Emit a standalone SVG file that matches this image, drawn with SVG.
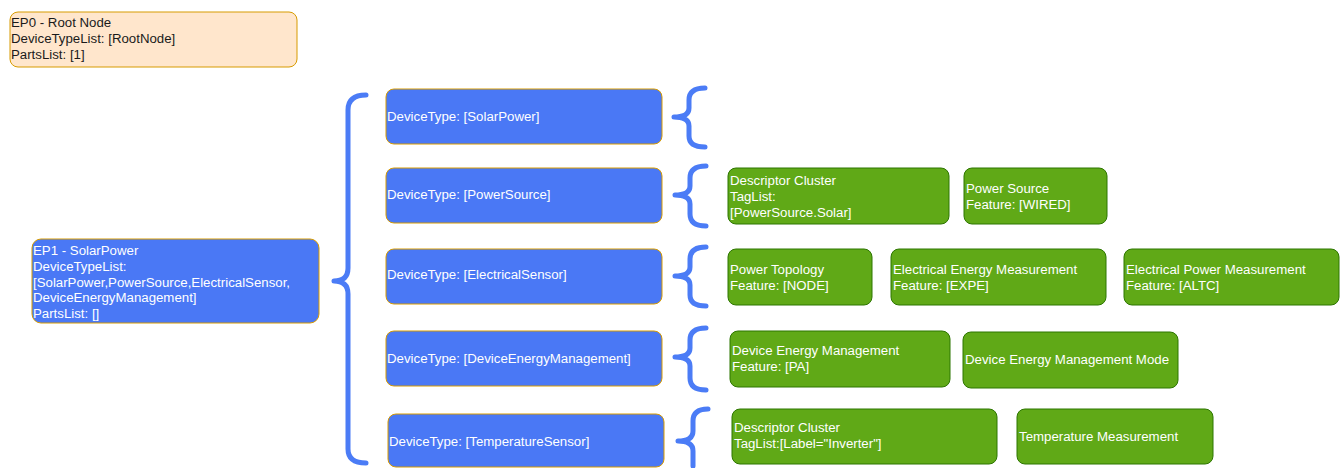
<svg xmlns="http://www.w3.org/2000/svg" width="1341" height="468" viewBox="0 0 1341 468">
<style>
text{font-family:"Liberation Sans",Arial,sans-serif;font-size:13.25px}
.root{fill:#ffe6cc;stroke:#d79b00;stroke-width:1}
.blue{fill:#4a78f5;stroke:#d79b00;stroke-width:1}
.green{fill:#60a917;stroke:#2d7600;stroke-width:1}
.wt{fill:#ffffff}
.bt{fill:#1a1a1a}
.brace{fill:none;stroke:#4b7cf6;stroke-width:5;stroke-linecap:round;stroke-linejoin:round}
</style>
<rect width="1341" height="468" fill="#ffffff"/>
<g id="ep0">
<rect class="root" x="10" y="12" width="287" height="55" rx="8"/>
<text class="bt" x="11" y="27">EP0 - Root Node</text>
<text class="bt" x="11" y="43">DeviceTypeList: [RootNode]</text>
<text class="bt" x="11" y="59">PartsList: [1]</text>
</g>
<g id="ep1">
<rect class="blue" x="32" y="239" width="287" height="84" rx="9"/>
<text class="wt" x="33" y="255">EP1 - SolarPower</text>
<text class="wt" x="33" y="271">DeviceTypeList:</text>
<text class="wt" x="33" y="286.5">[SolarPower,PowerSource,ElectricalSensor,</text>
<text class="wt" x="33" y="302">DeviceEnergyManagement]</text>
<text class="wt" x="33" y="318">PartsList: []</text>
</g>
<g id="connectors">
<path class="brace" d="M366 95 Q348 95 348 110 L348 268 Q348 281 334 281 Q348 281 348 294 L348 449 Q348 463 366 463"/>
<path class="brace" d="M705 88 Q689 88 689 100 L689 108 Q689 117 674 117 Q689 117 689 126 L689 136 Q689 147 705 147"/>
<path class="brace" d="M706 166 Q690 166 690 178 L690 186 Q690 195 675 195 Q690 195 690 204 L690 214 Q690 226 706 226"/>
<path class="brace" d="M706 247 Q690 247 690 259 L690 267 Q690 276 675 276 Q690 276 690 285 L690 295 Q690 306 706 306"/>
<path class="brace" d="M706 328 Q690 328 690 340 L690 348 Q690 357 675 357 Q690 357 690 366 L690 378 Q690 390 706 390"/>
<path class="brace" d="M708 409 Q693 409 693 421 L693 431 Q693 441 678 441 Q693 441 693 451 L693 466"/>
</g>
<g id="dt-solar">
<rect class="blue" x="386" y="89" width="276" height="55" rx="8"/>
<text class="wt" x="387" y="120.5">DeviceType: [SolarPower]</text>
</g>
<g id="dt-powersource">
<rect class="blue" x="386" y="168" width="276" height="55" rx="8"/>
<text class="wt" x="387" y="198.5">DeviceType: [PowerSource]</text>
</g>
<g id="dt-electrical">
<rect class="blue" x="386" y="249" width="276" height="55" rx="8"/>
<text class="wt" x="387" y="278.5">DeviceType: [ElectricalSensor]</text>
</g>
<g id="dt-dem">
<rect class="blue" x="386" y="331" width="276" height="55" rx="8"/>
<text class="wt" x="387" y="362.5">DeviceType: [DeviceEnergyManagement]</text>
</g>
<g id="dt-temp">
<rect class="blue" x="388" y="414" width="276" height="53" rx="8"/>
<text class="wt" x="389" y="446">DeviceType: [TemperatureSensor]</text>
</g>
<g id="ps-descriptor">
<rect class="green" x="728" y="168" width="221" height="56" rx="8"/>
<text class="wt" x="730" y="185">Descriptor Cluster</text>
<text class="wt" x="730" y="201">TagList:</text>
<text class="wt" x="730" y="217">[PowerSource.Solar]</text>
</g>
<g id="ps-powersource">
<rect class="green" x="964" y="168" width="143" height="56" rx="8"/>
<text class="wt" x="966" y="193">Power Source</text>
<text class="wt" x="966" y="209">Feature: [WIRED]</text>
</g>
<g id="es-topology">
<rect class="green" x="728" y="249" width="144" height="56" rx="8"/>
<text class="wt" x="730" y="274">Power Topology</text>
<text class="wt" x="730" y="290">Feature: [NODE]</text>
</g>
<g id="es-energy">
<rect class="green" x="891" y="249" width="215" height="56" rx="8"/>
<text class="wt" x="893" y="273.5">Electrical Energy Measurement</text>
<text class="wt" x="893" y="289.5">Feature: [EXPE]</text>
</g>
<g id="es-power">
<rect class="green" x="1124" y="249" width="215" height="56" rx="8"/>
<text class="wt" x="1126" y="273.5">Electrical Power Measurement</text>
<text class="wt" x="1126" y="289.5">Feature: [ALTC]</text>
</g>
<g id="dem-dem">
<rect class="green" x="730" y="331" width="220" height="56" rx="8"/>
<text class="wt" x="732" y="355">Device Energy Management</text>
<text class="wt" x="732" y="371">Feature: [PA]</text>
</g>
<g id="dem-mode">
<rect class="green" x="963" y="332" width="215" height="56" rx="8"/>
<text class="wt" x="965" y="364">Device Energy Management Mode</text>
</g>
<g id="ts-descriptor">
<rect class="green" x="732" y="409" width="265" height="55" rx="8"/>
<text class="wt" x="734" y="432">Descriptor Cluster</text>
<text class="wt" x="734" y="448">TagList:[Label="Inverter"]</text>
</g>
<g id="ts-temp">
<rect class="green" x="1017" y="409" width="196" height="55" rx="8"/>
<text class="wt" x="1019" y="440.5">Temperature Measurement</text>
</g>
</svg>
